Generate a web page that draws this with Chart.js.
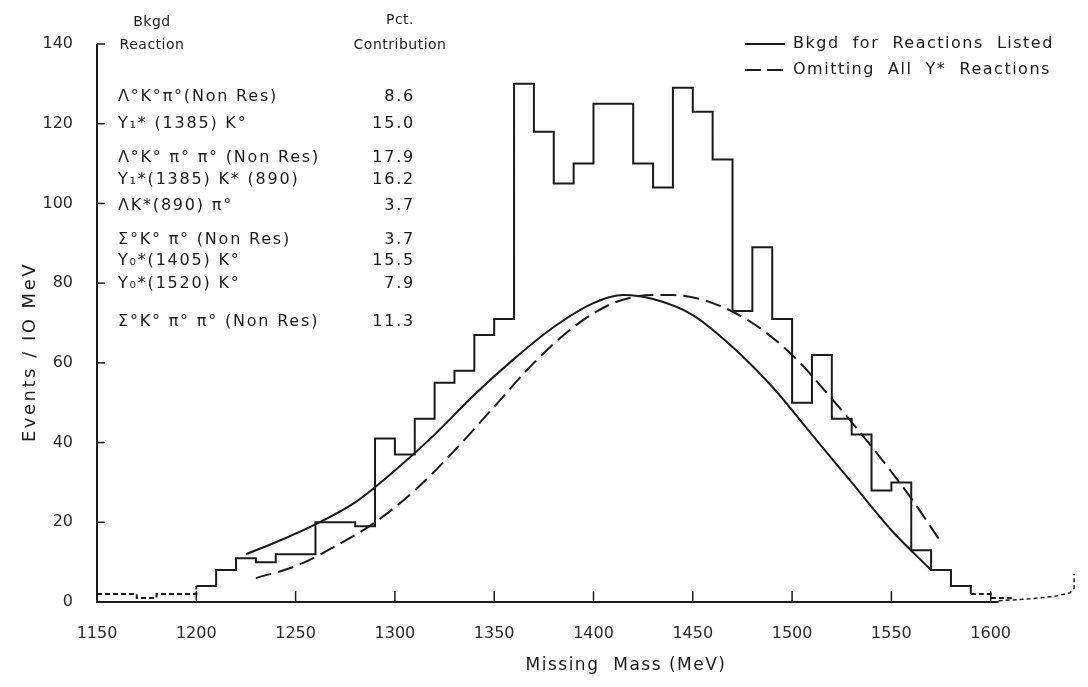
<!DOCTYPE html>
<html>
<head>
<meta charset="utf-8">
<script src="https://cdn.jsdelivr.net/npm/chart.js@4.4.1/dist/chart.umd.min.js"></script>
<style>
    html, body { margin: 0; padding: 0; background: #fff; }
    #wrap { width: 1088px; height: 687px; }
</style>
</head>
<body>
<div id="wrap"><canvas id="chart"></canvas></div>
<script>
// --- Données ---
// bords inférieurs des bins (10 MeV) + bord final
const binEdges = [1150, 1160, 1170, 1180, 1190, 1200, 1210, 1220, 1230, 1240,
    1250, 1260, 1270, 1280, 1290, 1300, 1310, 1320, 1330, 1340,
    1350, 1360, 1370, 1380, 1390, 1400, 1410, 1420, 1430, 1440,
    1450, 1460, 1470, 1480, 1490, 1500, 1510, 1520, 1530, 1540,
    1550, 1560, 1570, 1580, 1590, 1600, 1610];
const binCounts = [2, 2, 1, 2, 2, 4, 8, 11, 10, 12,
    12, 20, 20, 19, 41, 37, 46, 55, 58, 67,
    71, 130, 118, 105, 110, 125, 125, 110, 104, 129,
    123, 111, 73, 89, 71, 50, 62, 46, 42, 28,
    30, 13, 8, 4, 2, 1, 0];

// Bkgd for Reactions Listed (trait plein)
const bkgdMass = [1225, 1240, 1260, 1280, 1300, 1320, 1340, 1360, 1380, 1400, 1415, 1430, 1450, 1470, 1490, 1510, 1530, 1550, 1570];
const bkgdVal = [12, 15, 19.5, 25, 33, 42, 52, 61, 69, 75, 77, 76, 72, 64, 54, 42, 30, 18, 8];

// Omitting All Y* Reactions (tirets)
const omitMass = [1230, 1250, 1270, 1290, 1310, 1330, 1350, 1370, 1390, 1410, 1430, 1440, 1460, 1480, 1500, 1520, 1540, 1560, 1575];
const omitVal = [6, 9, 14, 20, 28, 38, 49, 60, 69, 75, 77, 77, 75, 70, 62, 51, 39, 26, 15];

// trace en pointillés à droite du scan
const tailMass = [1604, 1620, 1632, 1640, 1642, 1642];
const tailVal = [0.3, 0.8, 1.4, 2.3, 3.5, 7];

const xTicks = [1150, 1200, 1250, 1300, 1350, 1400, 1450, 1500, 1550, 1600];
const yTicks = [0, 20, 40, 60, 80, 100, 120, 140];

const reactions = ["Λ°K°π°(Non Res)", "Y₁* (1385) K°", "Λ°K° π° π° (Non Res)", "Y₁*(1385) K* (890)",
    "ΛK*(890) π°", "Σ°K° π° (Non Res)", "Y₀*(1405) K°", "Y₀*(1520) K°", "Σ°K° π° π° (Non Res)"];
const contributions = ["8.6", "15.0", "17.9", "16.2", "3.7", "3.7", "15.5", "7.9", "11.3"];
const rowY = [97, 124, 158, 180, 206, 240, 261, 284, 322];

const INK = '#1a1a1a';
const FONT = '"DejaVu Sans", sans-serif';

const toPts = (xs, ys) => xs.map((x, i) => ({ x: x, y: ys[i] }));

// --- Texte, légende et graduations internes ---
const paperPlugin = {
    id: 'paper',
    afterDraw(chart) {
        const ctx = chart.ctx;
        const xs = chart.scales.x, ys = chart.scales.y;
        ctx.save();
        ctx.strokeStyle = INK;
        ctx.lineWidth = 2;
        // axes
        ctx.beginPath();
        ctx.moveTo(xs.getPixelForValue(1150), ys.getPixelForValue(140));
        ctx.lineTo(xs.getPixelForValue(1150), ys.getPixelForValue(0));
        ctx.lineTo(xs.getPixelForValue(1604), ys.getPixelForValue(0));
        ctx.stroke();
        // graduations vers l'intérieur
        ctx.lineWidth = 1.5;
        yTicks.forEach(v => {
            const py = ys.getPixelForValue(v);
            ctx.beginPath();
            ctx.moveTo(xs.left, py);
            ctx.lineTo(xs.left + 8, py);
            ctx.stroke();
        });
        xTicks.forEach(v => {
            const px = xs.getPixelForValue(v);
            ctx.beginPath();
            ctx.moveTo(px, ys.bottom);
            ctx.lineTo(px, ys.bottom - 11);
            ctx.stroke();
        });

        ctx.fillStyle = INK;
        ctx.textBaseline = 'middle';
        // en-têtes du tableau
        ctx.letterSpacing = '0.5px';
        ctx.font = '14px ' + FONT;
        ctx.textAlign = 'center';
        ctx.fillText('Bkgd', 152, 22);
        ctx.fillText('Reaction', 152, 45);
        ctx.fillText('Pct.', 400, 20);
        ctx.fillText('Contribution', 400, 45);
        // lignes du tableau
        ctx.letterSpacing = '1.8px';
        ctx.font = '16px ' + FONT;
        reactions.forEach((r, i) => {
            ctx.textAlign = 'left';
            ctx.fillText(r, 118, rowY[i]);
            ctx.textAlign = 'right';
            ctx.fillText(contributions[i], 415, rowY[i]);
        });

        // légende
        ctx.letterSpacing = '1.5px';
        ctx.textAlign = 'left';
        ctx.fillText('Bkgd  for  Reactions  Listed', 793, 44);
        ctx.fillText('Omitting  All  Y*  Reactions', 793, 70);
        ctx.lineWidth = 2;
        ctx.beginPath();
        ctx.moveTo(745, 44);
        ctx.lineTo(785, 44);
        ctx.stroke();
        ctx.setLineDash([16, 6]);
        ctx.beginPath();
        ctx.moveTo(745, 70);
        ctx.lineTo(785, 70);
        ctx.stroke();
        ctx.setLineDash([]);

        // titres des axes
        ctx.font = '17px ' + FONT;
        ctx.textAlign = 'center';
        ctx.fillText('Missing  Mass (MeV)', 626, 666);
        ctx.letterSpacing = '2.5px';
        ctx.font = '18px ' + FONT;
        ctx.translate(30, 352);
        ctx.rotate(-Math.PI / 2);
        ctx.fillText('Events / IO MeV', 0, 0);
        ctx.restore();
    }
};

const ctx = document.getElementById('chart').getContext('2d');
const chart = new Chart(ctx, {
    type: 'line',
    data: {
        datasets: [
            {
                label: 'Histogramme',
                data: toPts(binEdges, binCounts),
                stepped: 'before',
                borderColor: INK,
                borderWidth: 2,
                pointRadius: 0,
                fill: false,
                segment: {
                    borderDash: c => c.p0.parsed.y <= 2 ? [5, 3] : undefined
                }
            },
            {
                label: 'Bkgd for Reactions Listed',
                data: toPts(bkgdMass, bkgdVal),
                borderColor: INK,
                borderWidth: 2,
                pointRadius: 0,
                cubicInterpolationMode: 'monotone',
                fill: false
            },
            {
                label: 'Omitting All Y* Reactions',
                data: toPts(omitMass, omitVal),
                borderColor: INK,
                borderWidth: 2,
                borderDash: [16, 7],
                pointRadius: 0,
                cubicInterpolationMode: 'monotone',
                fill: false
            },
            {
                label: 'tail',
                data: toPts(tailMass, tailVal),
                borderColor: INK,
                borderWidth: 1.5,
                borderDash: [4, 3],
                pointRadius: 0,
                fill: false
            }
        ]
    },
    options: {
        responsive: true,
        maintainAspectRatio: false,
        animation: false,
        layout: { padding: { left: 0, right: 0, top: 44, bottom: 0 } },
        plugins: { legend: { display: false }, tooltip: { enabled: false } },
        scales: {
            x: {
                type: 'linear',
                min: 1150,
                max: 1649,
                afterFit: s => { s.height = 85; },
                afterBuildTicks: s => { s.ticks = xTicks.map(v => ({ value: v })); },
                grid: { display: false, drawTicks: false },
                border: { display: false },
                ticks: {
                    color: '#2a2a2a',
                    font: { family: FONT, size: 16 },
                    padding: 22,
                    maxRotation: 0,
                    autoSkip: false,
                    callback: v => String(v)
                }
            },
            y: {
                min: 0,
                max: 140,
                afterFit: s => { s.width = 97; },
                afterBuildTicks: s => { s.ticks = yTicks.map(v => ({ value: v })); },
                grid: { display: false, drawTicks: false },
                border: { display: false },
                ticks: {
                    color: '#2a2a2a',
                    font: { family: FONT, size: 16 },
                    padding: 24
                }
            }
        }
    },
    plugins: [paperPlugin]
});
</script>
</body>
</html>
